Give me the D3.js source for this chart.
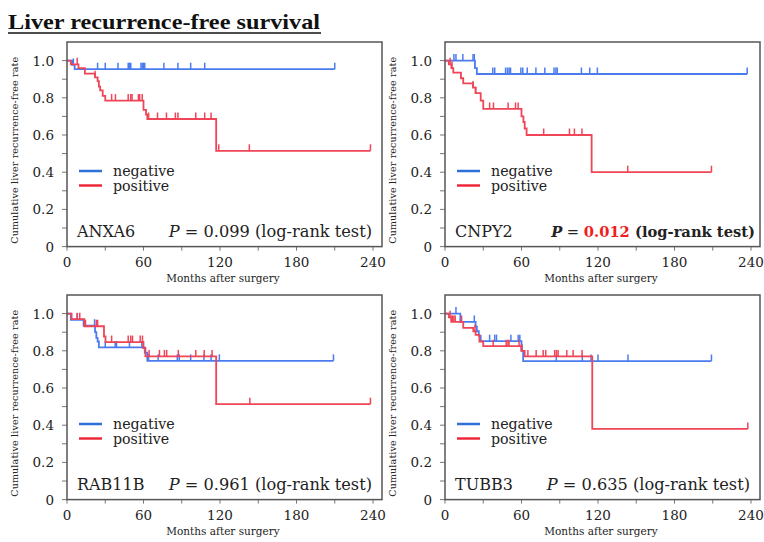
<!DOCTYPE html>
<html>
<head>
<meta charset="utf-8">
<script src="https://cdn.jsdelivr.net/npm/d3@7"></script>
<style>
  body { margin: 0; background: #fff; }
  svg { display: block; font-family: "DejaVu Serif", serif; }
</style>
</head>
<body>
<div id="chart"></div>
<script>
// data: [month, survival] step points, censor months
const genes = ["ANXA6", "CNPY2", "RAB11B", "TUBB3"];
const pValues = ["0.099", "0.012", "0.961", "0.635"];
const groups = ["negative", "positive"];

const anxa6Neg = [[0, 1], [4, 0.977], [6, 0.954], [210, 0.954]];
const anxa6NegCensor = [5, 24, 30, 40, 48, 49, 50, 58, 59, 60, 61, 76, 87, 97, 108, 210];
const anxa6Pos = [[0, 1], [3, 0.98], [9, 0.96], [14, 0.93], [22, 0.91], [24, 0.89], [25, 0.86], [26, 0.84], [28, 0.81], [30, 0.785], [60, 0.735], [62, 0.71], [63, 0.686], [117, 0.515], [238, 0.515]];
const anxa6PosCensor = [8, 22, 35, 38, 48, 50, 51, 56, 57, 59, 64, 71, 78, 85, 87, 101, 108, 113, 119, 143, 238];

const cnpy2Neg = [[0, 1], [23.5, 0.96], [25, 0.928], [237, 0.928]];
const cnpy2NegCensor = [7, 8.6, 14, 22, 23, 37.5, 39, 47.5, 49, 50.3, 51.4, 59.5, 61, 64.5, 71.3, 78.3, 85.5, 87, 88, 107, 113.5, 119.5, 237];
const cnpy2Pos = [[0, 1], [3, 0.98], [5, 0.96], [6.5, 0.935], [12.5, 0.905], [14.3, 0.878], [22, 0.855], [24, 0.825], [28, 0.785], [30, 0.74], [60, 0.7], [61.5, 0.67], [62.5, 0.635], [64, 0.6], [115, 0.4], [209, 0.4]];
const cnpy2PosCensor = [4, 5.5, 22, 24, 35, 38, 49.5, 55.3, 57.4, 77.4, 97.6, 101.5, 107.4, 143.3, 209];

const rab11bNeg = [[0, 1], [3, 0.967], [13, 0.935], [22, 0.9], [23, 0.87], [24, 0.85], [25, 0.818], [61, 0.79], [63, 0.746], [209, 0.746]];
const rab11bNegCensor = [3.5, 8, 21.6, 30, 37.8, 38.8, 49, 58.7, 60, 64, 71.5, 86.5, 88, 97, 107.4, 113, 119.5, 209];
const rab11bPos = [[0, 1], [3.5, 0.97], [13.6, 0.932], [29, 0.877], [30.2, 0.847], [59.8, 0.815], [61.5, 0.77], [117, 0.513], [238, 0.513]];
const rab11bPosCensor = [8, 10, 14.5, 23, 24, 35, 48, 50, 51.4, 57.4, 59.2, 64.4, 72.5, 76.4, 78.2, 87.3, 101, 107.6, 113.8, 143.4, 238];

const tubb3Neg = [[0, 1], [12, 0.955], [24, 0.93], [25, 0.905], [26.5, 0.88], [28, 0.852], [60, 0.8], [61.3, 0.745], [209, 0.745]];
const tubb3NegCensor = [8.6, 23, 35, 39, 40.4, 51.7, 57.4, 58.7, 60.5, 87.3, 107.7, 114.5, 120, 143.5, 209];
const tubb3Pos = [[0, 1], [3, 0.98], [5, 0.955], [14.3, 0.923], [22.2, 0.905], [24, 0.886], [27, 0.85], [30, 0.825], [60, 0.8], [62.5, 0.77], [115.5, 0.38], [237.5, 0.38]];
const tubb3PosCensor = [4, 5, 6, 7, 8, 13, 23.5, 37.8, 48, 49.4, 50.2, 58.1, 60, 65, 71.5, 77, 79, 86, 87.4, 88.7, 95.5, 100.5, 107.5, 237.5];

const xTicks = [0, 30, 60, 90, 120, 150, 180, 210, 240];
const xLabels = [0, 60, 120, 180, 240];
const yTicks = d3.range(0, 1.01, 0.1);
const yLabels = [0, 0.2, 0.4, 0.6, 0.8, 1.0];

const curves = [
    [anxa6Neg, anxa6NegCensor, anxa6Pos, anxa6PosCensor],
    [cnpy2Neg, cnpy2NegCensor, cnpy2Pos, cnpy2PosCensor],
    [rab11bNeg, rab11bNegCensor, rab11bPos, rab11bPosCensor],
    [tubb3Neg, tubb3NegCensor, tubb3Pos, tubb3PosCensor]
];

const W = 764, H = 542;
const lineColor = { negative: "#4a7cf0", positive: "#f04457" };
const legendColor = { negative: "#2f6fd8", positive: "#ee2838" };
const origins = [[67, 42], [445, 42], [67, 295], [445, 295]];
const boxW = 315, boxH = 204.6, plotW = 306;

const svg = d3.select("#chart").append("svg")
    .attr("width", W)
    .attr("height", H);

// title
svg.append("text")
    .attr("x", 8).attr("y", 29)
    .attr("font-family", "Liberation Serif, serif")
    .attr("font-weight", "bold")
    .attr("font-size", 22)
    .attr("textLength", 312)
    .attr("lengthAdjust", "spacingAndGlyphs")
    .attr("fill", "#111")
    .text("Liver recurrence-free survival");
svg.append("line")
    .attr("x1", 8).attr("x2", 321)
    .attr("y1", 33).attr("y2", 33)
    .attr("stroke", "#111").attr("stroke-width", 1.5);

const x = d3.scaleLinear().domain([0, 240]).range([0, plotW]);
const y = d3.scaleLinear().domain([0, 1.1]).range([boxH, 0]);

const stepLine = d3.line()
    .x(d => x(d[0]))
    .y(d => y(d[1]))
    .curve(d3.curveStepAfter);

function survivalAt(steps, t) {
    let s = steps[0][1];
    steps.forEach(d => { if (d[0] <= t) s = d[1]; });
    return s;
}

function drawPanel(i) {
    const [ox, oy] = origins[i];
    const g = svg.append("g").attr("transform", `translate(${ox},${oy})`);

    // y axis: minor ticks every 0.1, labels every 0.2
    g.append("g").selectAll("line")
        .data(yTicks)
        .join("line")
        .attr("x1", -5).attr("x2", 0)
        .attr("y1", d => y(d)).attr("y2", d => y(d))
        .attr("stroke", "#777").attr("stroke-width", 1);
    g.append("g").selectAll("text")
        .data(yLabels)
        .join("text")
        .attr("x", -13)
        .attr("y", d => y(d) + 5)
        .attr("text-anchor", "end")
        .attr("font-size", 13.5)
        .attr("fill", "#222")
        .text(d => d === 0 ? "0" : d.toFixed(1));

    // x axis
    g.append("g").selectAll("line")
        .data(xTicks)
        .join("line")
        .attr("x1", d => x(d)).attr("x2", d => x(d))
        .attr("y1", boxH).attr("y2", boxH + 4)
        .attr("stroke", "#777").attr("stroke-width", 1);
    g.append("g").selectAll("text")
        .data(xLabels)
        .join("text")
        .attr("x", d => x(d))
        .attr("y", boxH + 20)
        .attr("text-anchor", "middle")
        .attr("font-size", 13.5)
        .attr("fill", "#222")
        .text(d => d);

    g.append("text")
        .attr("x", plotW / 2 + 3)
        .attr("y", boxH + 35.5)
        .attr("text-anchor", "middle")
        .attr("font-size", 10.5)
        .attr("fill", "#222")
        .text("Months after surgery");

    g.append("text")
        .attr("transform", `translate(-49,${boxH / 2 + 6}) rotate(-90)`)
        .attr("text-anchor", "middle")
        .attr("font-size", 9.5)
        .attr("textLength", 187)
        .attr("fill", "#222")
        .text("Cumulative  liver  recurrence-free  rate");

    // curves
    const [neg, negC, pos, posC] = curves[i];
    [[neg, negC, "negative"], [pos, posC, "positive"]].forEach(([steps, cens, grp]) => {
        g.append("path")
            .attr("d", stepLine(steps))
            .attr("fill", "none")
            .attr("stroke", lineColor[grp])
            .attr("stroke-width", 1.8);
        g.append("g").selectAll("line")
            .data(cens)
            .join("line")
            .attr("x1", d => x(d)).attr("x2", d => x(d))
            .attr("y1", d => y(survivalAt(steps, d)))
            .attr("y2", d => y(survivalAt(steps, d)) - 6.5)
            .attr("stroke", lineColor[grp])
            .attr("stroke-width", 1.5);
    });

    // legend
    groups.forEach((grp, k) => {
        const ly = 129 + k * 14.5;
        g.append("line")
            .attr("x1", 12).attr("x2", 35)
            .attr("y1", ly).attr("y2", ly)
            .attr("stroke", legendColor[grp])
            .attr("stroke-width", 2.5);
        g.append("text")
            .attr("x", 46).attr("y", ly + 5)
            .attr("font-size", 14.2)
            .attr("fill", "#222")
            .text(grp);
    });

    // gene name and p-value
    g.append("text")
        .attr("x", 10).attr("y", boxH - 10)
        .attr("font-size", 16)
        .attr("fill", "#222")
        .text(genes[i]);

    const sig = +pValues[i] < 0.05;
    const pt = g.append("text")
        .attr("x", sig ? 310 : 305).attr("y", boxH - 10)
        .attr("text-anchor", "end")
        .attr("font-size", sig ? 14.7 : 16.2)
        .attr("fill", "#222");
    pt.append("tspan").attr("font-style", "italic").attr("font-weight", sig ? "bold" : null).text("P");
    pt.append("tspan").text(" = ");
    pt.append("tspan")
        .attr("fill", sig ? "#f01e1e" : "#222")
        .attr("font-weight", sig ? "bold" : null)
        .text(pValues[i]);
    pt.append("tspan")
        .attr("font-weight", sig ? "bold" : null)
        .text(" (log-rank test)");

    // frame
    g.append("rect")
        .attr("width", boxW).attr("height", boxH)
        .attr("fill", "none")
        .attr("stroke", "#555")
        .attr("stroke-width", 1.5);
}

genes.forEach((_, i) => drawPanel(i));
</script>
</body>
</html>
